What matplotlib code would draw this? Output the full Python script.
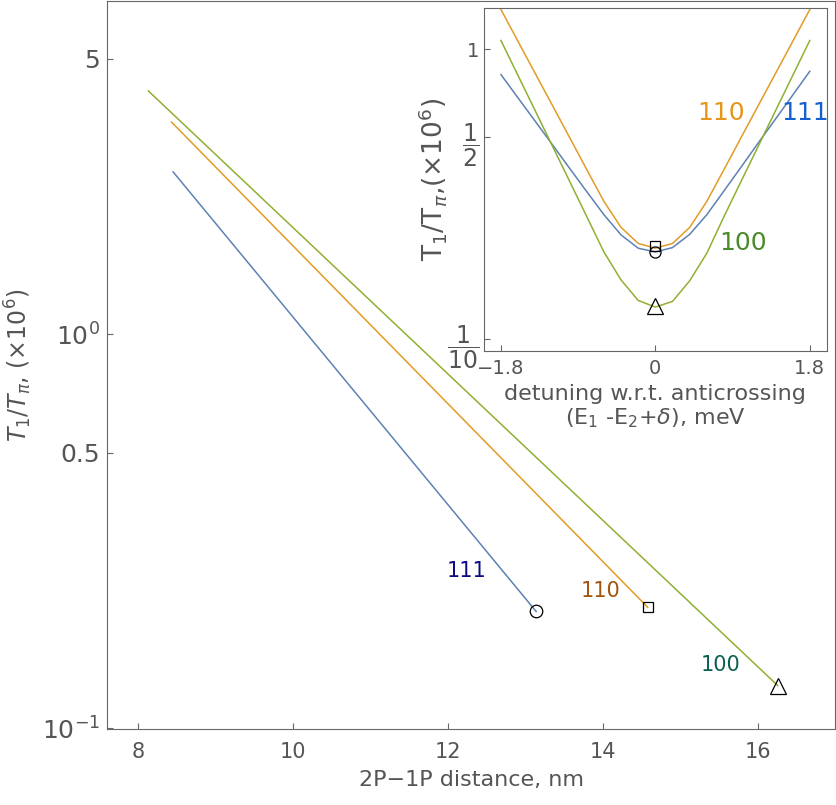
import matplotlib
matplotlib.use("Agg")
import matplotlib.pyplot as plt

# main panel: T1/Tpi vs 2P-1P distance (straight lines on log scale)
dist_111 = [8.45, 13.14]
ratio_111 = [2.58, 0.198]
dist_110 = [8.43, 14.58]
ratio_110 = [3.45, 0.203]
dist_100 = [8.13, 16.26]
ratio_100 = [4.14, 0.1285]

# inset: detuning scan (meV)
detuning = [-1.8, -1.6, -1.4, -1.2, -1.0, -0.8, -0.6, -0.4, -0.2, 0.0,
            0.2, 0.4, 0.6, 0.8, 1.0, 1.2, 1.4, 1.6, 1.8]
inset_110 = [1.374, 1.065, 0.826, 0.641, 0.497, 0.385, 0.299, 0.243, 0.214, 0.206,
             0.214, 0.243, 0.299, 0.385, 0.497, 0.641, 0.826, 1.065, 1.374]
inset_111 = [0.819, 0.680, 0.565, 0.469, 0.389, 0.323, 0.269, 0.229, 0.206, 0.200,
             0.207, 0.230, 0.269, 0.325, 0.393, 0.476, 0.575, 0.695, 0.841]
inset_100 = [1.074, 0.812, 0.614, 0.464, 0.351, 0.265, 0.200, 0.160, 0.136, 0.129,
             0.135, 0.159, 0.198, 0.265, 0.351, 0.464, 0.614, 0.812, 1.074]
inset_mark = {"110": 0.210, "111": 0.1995, "100": 0.130}

c_blue = "#5E81B5"
c_orange = "#E19C24"
c_green = "#8FB032"
gray = "#555555"
frame = "#666666"

fig = plt.figure(figsize=(8.37, 8.05), dpi=100)

ax = fig.add_axes([0.1282, 0.094, 0.8694, 0.9048])
ax.set_yscale("log")
ax.plot(dist_111, ratio_111, color=c_blue, lw=1.1)
ax.plot(dist_110, ratio_110, color=c_orange, lw=1.1)
ax.plot(dist_100, ratio_100, color=c_green, lw=1.1)
ax.plot(dist_111[-1], ratio_111[-1], "o", ms=9, mfc="none", mec="k", mew=0.9)
ax.plot(dist_110[-1], ratio_110[-1], "s", ms=7, mfc="none", mec="k", mew=0.9)
ax.plot(dist_100[-1], ratio_100[-1], "^", ms=12, mfc="none", mec="k", mew=0.9)
ax.text(12.24, 0.251, "111", color="#0A0A80", fontsize=15, ha="center", va="center")
ax.text(13.97, 0.223, "110", color="#A0560A", fontsize=15, ha="center", va="center")
ax.text(15.52, 0.145, "100", color="#0A6050", fontsize=15, ha="center", va="center")

ax.set_xlim(7.6, 17.0)
ax.set_ylim(0.0995, 7.0)
ax.set_xticks([8, 10, 12, 14, 16])
ax.set_yticks([5, 1, 0.5, 0.1])
ax.set_yticklabels(["5", r"$\mathregular{10^0}$", "0.5", r"$\mathregular{10^{-1}}$"])
ax.minorticks_off()
ax.tick_params(axis="x", direction="in", length=4, colors=frame, labelcolor=gray,
               labelsize=15, pad=9)
ax.tick_params(axis="y", direction="in", length=4, colors=frame, labelcolor=gray,
               labelsize=18, pad=5)
for s in ax.spines.values():
    s.set_color(frame)
ax.set_xlabel("2P\u22121P distance, nm", fontsize=16, color=gray, labelpad=6)
ax.set_ylabel(r"$T_1/T_\pi$, (×10$^6$)", fontsize=17, color=gray, labelpad=6)

# inset
ins = fig.add_axes([0.578, 0.564, 0.410, 0.426])
ins.set_yscale("log")
ins.plot(detuning, inset_110, color=c_orange, lw=1.1)
ins.plot(detuning, inset_111, color=c_blue, lw=1.1)
ins.plot(detuning, inset_100, color=c_green, lw=1.1)
ins.plot(0, inset_mark["110"], "s", ms=7, mfc="none", mec="k", mew=0.9)
ins.plot(0, inset_mark["111"], "o", ms=8, mfc="none", mec="k", mew=0.9)
ins.plot(0, inset_mark["100"], "^", ms=12, mfc="none", mec="k", mew=0.9)
ins.text(0.77, 0.604, "110", color="#E8961A", fontsize=18, ha="center", va="center")
ins.text(1.74, 0.604, "111", color="#1560D0", fontsize=18, ha="center", va="center",
         clip_on=False)
ins.text(1.02, 0.214, "100", color="#4A8A2A", fontsize=18, ha="center", va="center")

ins.set_xlim(-2.0, 2.0)
ins.set_ylim(0.091, 1.39)
ins.set_xticks([-1.8, 0, 1.8])
ins.set_xticklabels(["\u22121.8", "0", "1.8"])
ins.set_yticks([1, 0.5, 0.1])
ins.set_yticklabels(["1", r"$\dfrac{1}{2}$", r"$\dfrac{1}{10}$"])
ins.minorticks_off()
ins.tick_params(direction="in", length=4, colors=frame, labelcolor=gray, labelsize=14)
ins.tick_params(axis="x", pad=6)
for lbl in ins.get_yticklabels()[1:]:
    lbl.set_fontsize(17)
for s in ins.spines.values():
    s.set_color(frame)
ins.set_xlabel("detuning w.r.t. anticrossing\n(E$_1$ -E$_2$+$\\delta$), meV",
               fontsize=16, color=gray, labelpad=4, linespacing=1.15)
ins.set_ylabel("T$_1$/T$_\\pi$,(×10$^6$)", fontsize=19, color=gray)
ins.yaxis.set_label_coords(-0.10, 0.5)

fig.savefig("out.png", dpi=100)
